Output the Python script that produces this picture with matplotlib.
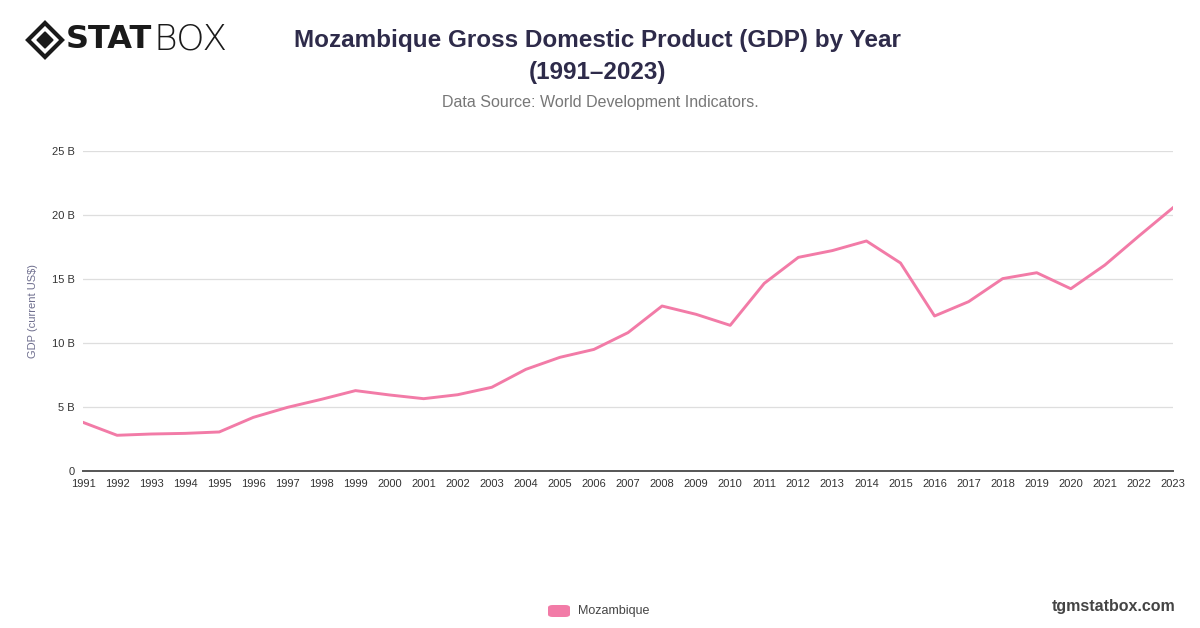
import numpy as np
import matplotlib.pyplot as plt
from matplotlib.patches import Polygon, FancyBboxPatch

years = list(range(1991, 2024))
gdp_billions = [3.80, 2.79, 2.89, 2.94, 3.05, 4.19, 4.97, 5.60, 6.28, 5.94,
                5.65, 5.96, 6.54, 7.94, 8.88, 9.50, 10.81, 12.89, 12.24, 11.38,
                14.66, 16.69, 17.22, 17.97, 16.25, 12.11, 13.23, 15.03, 15.49, 14.24,
                16.09, 18.36, 20.57]
y_ticks = [0, 5, 10, 15, 20, 25]
y_tick_labels = ['0', '5 B', '10 B', '15 B', '20 B', '25 B']

line_color = '#f27ba7'
plt.rcParams['font.family'] = ['Liberation Sans', 'DejaVu Sans']

fig = plt.figure(figsize=(12, 6.28), dpi=100)
W, H = 1200, 628
ax = fig.add_axes([83 / W, (H - 471) / H, (1173 - 83) / W, (471 - 151) / H])

ax.plot(years, gdp_billions, color=line_color, lw=2.1, solid_joinstyle='round', zorder=3)
ax.set_xlim(1991, 2023)
ax.set_ylim(0, 25)
ax.set_xticks(years)
ax.set_xticklabels([str(y) for y in years], fontsize=8, color='#333333')
ax.set_yticks(y_ticks)
ax.set_yticklabels(y_tick_labels, fontsize=8, color='#333333')
ax.tick_params(axis='both', length=0)
ax.tick_params(axis='x', pad=6)
ax.tick_params(axis='y', pad=6)
ax.grid(axis='y', color='#dedede', lw=0.9)
ax.set_axisbelow(True)
for s in ['top', 'right', 'left']:
    ax.spines[s].set_visible(False)
ax.spines['bottom'].set_color('#555555')
ax.spines['bottom'].set_linewidth(1.4)
ax.set_ylabel('GDP (current US$)', fontsize=8, color='#6e6e8e')
ax.yaxis.set_label_coords(-45 / 1090, 0.5)

# title and subtitle
fig.text(597 / W, 1 - 40 / H, 'Mozambique Gross Domestic Product (GDP) by Year',
         ha='center', va='center', fontsize=17.5, fontweight='bold', color='#2e2b4a')
fig.text(597 / W, 1 - 72 / H, '(1991\u20132023)',
         ha='center', va='center', fontsize=17.5, fontweight='bold', color='#2e2b4a')
fig.text(600 / W, 1 - 102 / H, 'Data Source: World Development Indicators.',
         ha='center', va='center', fontsize=11.5, color='#777777')

# logo
cx, cy, r = 45, 40, 17
outer = [(cx - r, cy), (cx, cy - r), (cx + r, cy), (cx, cy + r)]
fig.patches.append(Polygon([(x / W, 1 - y / H) for x, y in outer], closed=True,
                           fill=False, ec='#1a1a1a', lw=3, transform=fig.transFigure))
r2 = 8
inner = [(cx - r2, cy), (cx, cy - r2), (cx + r2, cy), (cx, cy + r2)]
fig.patches.append(Polygon([(x / W, 1 - y / H) for x, y in inner], closed=True,
                           fc='#1a1a1a', ec='#1a1a1a', transform=fig.transFigure))
fig.text(66 / W, 1 - 40 / H, 'STAT', ha='left', va='center', fontsize=23,
         fontweight='heavy', color='#1a1a1a', family=['DejaVu Sans'])
fig.text(153 / W, 1 - 40 / H, 'BOX', ha='left', va='center', fontsize=26,
         fontweight='light', color='#1a1a1a', family=['DejaVu Sans'])

# legend
fig.patches.append(FancyBboxPatch((548 / W, 1 - 617 / H), 22 / W, 12 / H,
                                  boxstyle='round,pad=0,rounding_size=0.004',
                                  fc=line_color, ec='none', transform=fig.transFigure))
fig.text(578 / W, 1 - 611 / H, 'Mozambique', ha='left', va='center',
         fontsize=9, color='#444444')

fig.text(1176 / W, 1 - 607 / H, 'tgmstatbox.com', ha='right', va='center',
         fontsize=11.5, fontweight='bold', color='#444444')

fig.savefig('out.png', dpi=100)
